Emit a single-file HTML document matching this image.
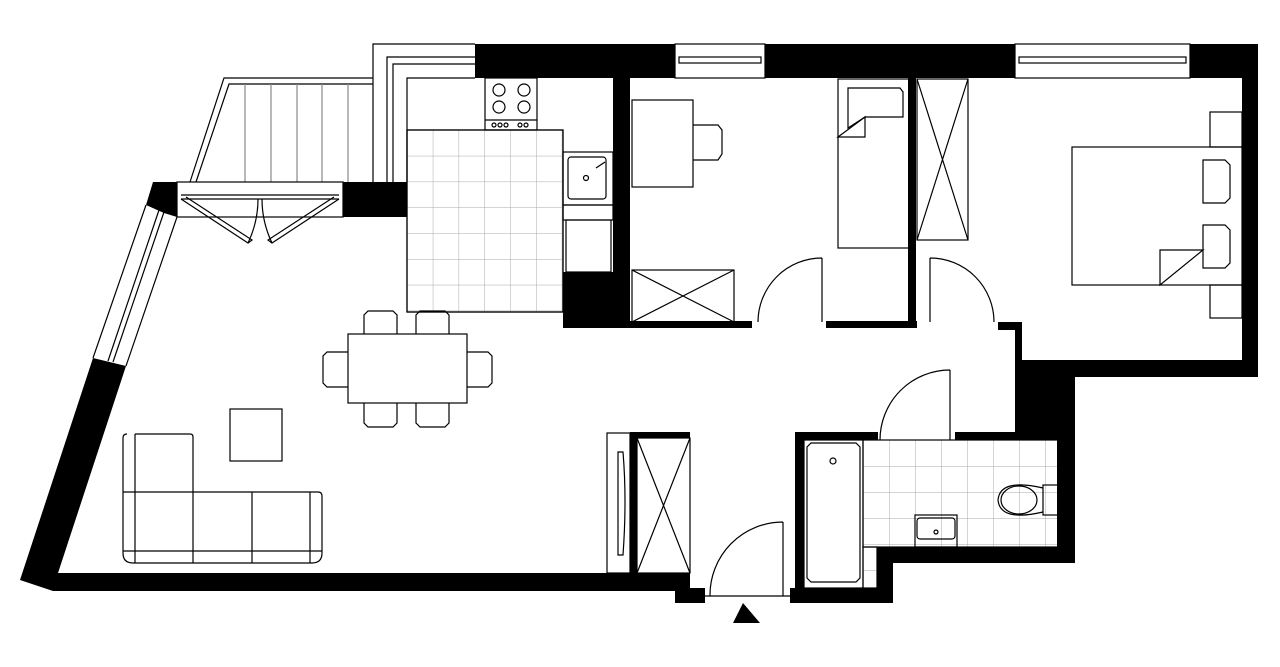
<!DOCTYPE html>
<html><head><meta charset="utf-8"><style>html,body{margin:0;padding:0;background:#fff}svg{display:block}</style></head>
<body>
<svg width="1280" height="667" viewBox="0 0 1280 667" xmlns="http://www.w3.org/2000/svg">
<defs>
<pattern id="tile" x="407" y="130" width="25.8" height="25.8" patternUnits="userSpaceOnUse">
<path d="M0 0H25.8M0 0V25.8" stroke="#aaa" stroke-width="1" fill="none"/></pattern>
<pattern id="tile2" x="863" y="440" width="26" height="26" patternUnits="userSpaceOnUse">
<path d="M0 0H26M0 0V26" stroke="#aaa" stroke-width="1" fill="none"/></pattern>
</defs>
<rect width="1280" height="667" fill="#fff"/>
<g fill="none" stroke="#000" stroke-width="1.2">
<!-- balcony -->
<path d="M190 182 L224 78 H373"/>
<path d="M196 182 L229 84 H373"/>
<path d="M245 84V182M271 84V182M297 84V182M322 84V182M348 84V182" stroke="#888"/>
<!-- upper frame -->
<path d="M373 182V44H475M387 182V57H475M393 182V64H475M407 182V78H475"/>
<!-- kitchen -->
<rect x="407" y="130" width="156" height="182" fill="url(#tile)"/>
<rect x="407" y="130" width="156" height="182"/>
<rect x="485" y="78" width="52" height="52"/>
<line x1="485" y1="120" x2="537" y2="120"/>
<circle cx="499" cy="90" r="6"/><circle cx="524" cy="90" r="6"/><circle cx="499" cy="107" r="6"/><circle cx="524" cy="107" r="6"/>
<circle cx="494" cy="125" r="2"/><circle cx="500" cy="125" r="2"/><circle cx="506" cy="125" r="2"/><circle cx="520" cy="125" r="2"/><circle cx="526" cy="125" r="2"/>
<rect x="563" y="152" width="50" height="53"/>
<rect x="568" y="157" width="38" height="42" rx="3"/>
<circle cx="586" cy="178" r="2.5"/><path d="M596 168 L605 162"/>
<rect x="563" y="205" width="50" height="15"/>
<rect x="566" y="220" width="45" height="52"/>
<!-- balcony door -->
<rect x="177" y="182" width="166" height="35"/>
<path d="M181 195H339M181 199H339"/>
<path d="M181 199 L248 243 L252 240 L186 197"/>
<path d="M339 199 L272 243 L268 240 L334 197"/>
<path d="M248 243 Q258 222 258 199M272 243 Q262 222 262 199"/>
<!-- left window -->
<path d="M146 205 L93 358M177 217 L126 366M159 210 L108 361M164 212 L113 362"/>
<!-- child room -->
<rect x="632" y="100" width="61" height="87"/>
<path d="M693 125H718L722 130V154L718 160H693"/>
<rect x="838" y="79" width="74" height="169"/>
<path d="M848 88H900L903 92V117H865L848 128V92Z"/>
<path d="M838 137 L865 117 V137 Z"/>
<rect x="632" y="270" width="102" height="52"/>
<path d="M632 270L734 322M734 270L632 322"/>
<path d="M822 322V258M822 258 A64 64 0 0 0 758 322"/>
<!-- wardrobe -->
<rect x="917" y="79" width="51" height="161"/>
<path d="M917 79L968 240M968 79L917 240"/>
<path d="M930 322V258M930 258 A64 64 0 0 1 994 322"/>
<!-- bedroom -->
<rect x="1210" y="112" width="32" height="35"/>
<rect x="1210" y="285" width="32" height="33"/>
<rect x="1072" y="147" width="170" height="138"/>
<path d="M1203 160H1225L1230 165V198L1225 203H1203Z"/>
<path d="M1203 225H1225L1230 230V263L1225 268H1203Z"/>
<path d="M1160 285V250H1203Z"/>
<!-- dining -->
<rect x="348" y="334" width="119" height="69"/>
<path d="M364 334V315L368 311H393L397 315V334M416 334V315L420 311H445L449 315V334"/>
<path d="M364 403V423L368 427H393L397 423V403M416 403V423L420 427H445L449 423V403"/>
<path d="M348 352H327L323 356V383L327 387H348M467 352H488L492 356V383L488 387H467"/>
<rect x="230" y="409" width="52" height="52"/>
<!-- sofa -->
<path d="M135 434H190Q193 434 193 437V492M127 434Q123 434 123 438V553Q123 563 133 563H312Q322 563 322 553V496Q322 492 318 492H310"/>
<path d="M135 434V563M310 492V563M123 492H310M123 551H322M193 492V563M252 492V563"/>
<!-- hallway wardrobe -->
<rect x="637" y="438" width="53" height="135"/>
<path d="M637 438L690 573M690 438L637 573"/>
<rect x="607" y="433" width="23" height="140"/>
<path d="M618 452H623Q627 500 623 555H618Z"/>
<!-- bathroom -->
<rect x="863" y="440" width="195" height="107" fill="url(#tile2)"/>
<rect x="863" y="547" width="14" height="41" fill="url(#tile2)"/>
<rect x="804" y="440" width="59" height="148"/>
<path d="M811 443H856L860 447V578L856 582H811L807 578V447Z"/>
<circle cx="833" cy="461" r="3"/>
<rect x="1043" y="485" width="15" height="30"/>
<path d="M1043 488Q1000 478 998 500Q1000 522 1043 512"/>
<ellipse cx="1019" cy="500" rx="18" ry="14"/>
<rect x="915" y="515" width="42" height="32"/>
<rect x="917" y="518" width="38" height="21" rx="3"/>
<circle cx="936" cy="532" r="2"/>
<path d="M950 440V370M950 370 A70 70 0 0 0 880 440"/>
<!-- entrance -->
<path d="M783 596V522M783 522 A73 73 0 0 0 710 596M705 596H790"/>
</g>
<g fill="#000">
<rect x="475" y="44" width="200" height="34"/>
<rect x="765" y="44" width="250" height="34"/>
<rect x="1190" y="44" width="68" height="34"/>
<rect x="1242" y="44" width="16" height="333"/>
<rect x="1020" y="360" width="238" height="17"/>
<rect x="1015" y="322" width="7" height="40"/>
<rect x="998" y="322" width="22" height="8"/>
<rect x="1015" y="360" width="60" height="80"/>
<rect x="1057" y="377" width="18" height="186"/>
<rect x="877" y="547" width="198" height="16"/>
<rect x="877" y="547" width="16" height="56"/>
<rect x="790" y="588" width="103" height="15"/>
<rect x="795" y="432" width="9" height="171"/>
<rect x="795" y="432" width="83" height="8"/>
<rect x="955" y="432" width="102" height="8"/>
<rect x="613" y="78" width="17" height="250"/>
<rect x="563" y="272" width="67" height="56"/>
<rect x="630" y="321" width="122" height="7"/>
<rect x="826" y="321" width="91" height="7"/>
<rect x="908" y="78" width="8" height="250"/>
<rect x="343" y="182" width="64" height="35"/>
<polygon points="153,182 177,182 177,217 164,213 146,205"/>
<polygon points="20,580 53,591 690,591 690,573 58,573 126,366 93,358"/>
<rect x="675" y="588" width="30" height="15"/>
<rect x="630" y="432" width="7" height="141"/>
<rect x="630" y="432" width="60" height="6"/>
<polygon points="743,603 733,623 760,623"/>
</g>
<g fill="none" stroke="#000" stroke-width="1.2">
<rect x="675" y="44" width="90" height="34"/>
<rect x="679" y="57" width="82" height="6"/>
<rect x="1015" y="44" width="175" height="34"/>
<rect x="1019" y="57" width="167" height="6"/>
</g>
</svg>
</body></html>
